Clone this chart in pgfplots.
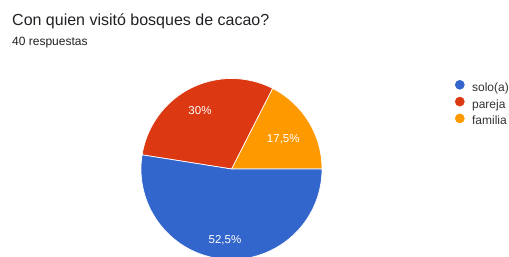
\documentclass[border=0pt]{standalone}
\usepackage{pgfplots}
\usepackage{pgfplotstable}
\pgfplotsset{compat=1.18}
\usepackage{fontspec}
\setmainfont{Liberation Sans}
\definecolor{cblue}{HTML}{3366CC}
\definecolor{cred}{HTML}{DC3912}
\definecolor{corange}{HTML}{FF9900}
\definecolor{ctext}{HTML}{202124}
\definecolor{cleg}{HTML}{333333}

\pgfplotstableread{
label value
solo 52.5
pareja 30
familia 17.5
}\piedata
\pgfplotstablegetelem{0}{value}\of\piedata \let\vsol\pgfplotsretval
\pgfplotstablegetelem{1}{value}\of\piedata \let\vpar\pgfplotsretval
\pgfplotstablegetelem{2}{value}\of\piedata \let\vfam\pgfplotsretval
\pgfmathsetmacro\aA{0}
\pgfmathsetmacro\aB{\vfam*3.6}
\pgfmathsetmacro\aC{\aB+\vpar*3.6}
\pgfmathsetmacro\aD{\aC+\vsol*3.6}

\begin{document}
\begin{tikzpicture}
\useasboundingbox (0,0) rectangle (509bp,257bp);
\begin{axis}[
  x=1bp, y=1bp, xmin=0, xmax=509, ymin=0, ymax=257,
  at={(0,0)}, anchor=origin,
  hide axis,
  legend style={at={(axis cs:455,177)}, anchor=north west, draw=none, fill=none,
    inner sep=0pt, outer sep=0pt, row sep=1.5bp, column sep=6.5bp,
    font=\fontsize{12bp}{14bp}\selectfont, text=cleg,
    nodes={inner sep=1bp, text height=9bp, text depth=3bp}},
  legend cell align=left,
  legend image code/.code={\fill[#1] (4.6bp,3.5bp) circle (4.6bp);},
]
\addlegendimage{cblue}
\addlegendentry{solo(a)}
\addlegendimage{cred}
\addlegendentry{pareja}
\addlegendimage{corange}
\addlegendentry{familia}

\fill[corange, draw=white, line width=0.7bp] (axis cs:231.5,88) -- ++(\aA:90.5bp) arc[start angle=\aA, end angle=\aB, radius=90.5bp] -- cycle;
\fill[cred, draw=white, line width=0.7bp] (axis cs:231.5,88) -- ++(\aB:90.5bp) arc[start angle=\aB, end angle=\aC, radius=90.5bp] -- cycle;
\fill[cblue, draw=white, line width=0.7bp] (axis cs:231.5,88) -- ++(\aC:90.5bp) arc[start angle=\aC, end angle=\aD, radius=90.5bp] -- cycle;

\node[white, font=\fontsize{11.5bp}{13bp}\selectfont] at (axis cs:200,146.5) {30\%};
\node[white, font=\fontsize{11.5bp}{13bp}\selectfont] at (axis cs:283.3,118) {17,5\%};
\node[white, font=\fontsize{11.5bp}{13bp}\selectfont] at (axis cs:225,17) {52,5\%};
\end{axis}
\node[anchor=base west, inner sep=0pt, text=ctext, font=\fontsize{16bp}{19bp}\selectfont] at (12bp,231bp) {Con quien visitó bosques de cacao?};
\node[anchor=base west, inner sep=0pt, text=ctext, font=\fontsize{12bp}{14bp}\selectfont] at (12bp,211bp) {40 respuestas};
\end{tikzpicture}
\end{document}
